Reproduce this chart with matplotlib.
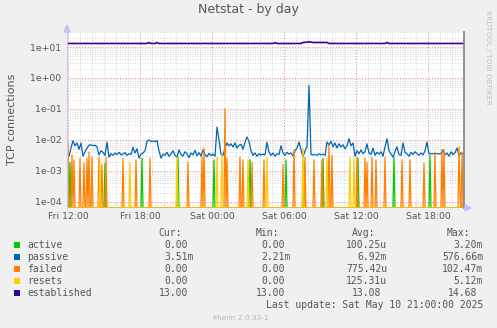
import matplotlib
matplotlib.use('Agg')
import matplotlib.pyplot as plt
from matplotlib.patches import Rectangle, Polygon
from matplotlib.ticker import FixedLocator, LogLocator, NullFormatter
import numpy as np

W, H = 497, 328
TXT = '#555555'

# hours since Fri 12:00, passive sampled every 10 min starting Fri 11:55
t_start = -5 / 60
passive_m = [3.3, 3.0, 5.5, 9.5, 6.5, 8.0, 5.0, 8.0, 3.0, 4.2, 5.5, 6.8, 7.0,
             6.5, 6.8, 6.0, 3.3, 4.5, 4.0, 3.2, 8.5, 2.8,
             3.6, 3.2, 3.8, 3.4, 4.0, 3.3, 3.5, 3.9, 3.2, 3.6, 3.4,
             5.8, 3.8, 5.2, 2.6,
             3.5, 3.8, 4.5, 9.0, 10.0, 9.0, 9.2, 8.8, 9.5, 4.5,
             2.6, 3.5, 3.2,
             4.0, 3.0, 3.6, 4.5, 3.2, 2.8, 4.8, 3.4, 3.0, 4.2, 3.6, 2.7, 3.8, 3.3,
             4.6, 3.1, 3.9, 3.0, 4.8, 3.4, 2.9, 3.7, 3.2, 3.5, 3.0,
             26.0, 10.0, 3.5, 3.2, 5.5, 8.0, 6.5, 7.5, 6.0, 8.0, 5.5, 6.8, 7.2,
             5.0, 8.5, 12.5, 9.0, 4.5, 3.2, 3.8, 3.0, 3.6, 3.3,
             3.5, 3.3, 8.5, 4.0, 3.2, 3.8, 3.0, 3.6, 3.4, 6.5, 3.8, 3.2, 4.0,
             3.5, 3.8, 3.1, 4.5, 5.5, 8.5, 5.0, 2.8, 4.5, 6.0,
             576.66, 3.4,
             3.3, 3.4, 3.2, 3.6, 3.3, 3.5, 3.2,
             8.5, 7.0, 9.0, 6.0, 8.0, 5.5, 7.5, 6.0, 7.0, 5.2, 6.5, 11.0, 6.5,
             8.0, 3.0, 4.5, 3.6, 4.8,
             3.6, 4.2, 7.5, 3.8, 3.4, 5.5, 3.2, 4.0, 3.5, 4.2, 3.0, 6.0, 11.0,
             4.5, 3.6, 2.8, 4.2, 6.0, 3.4, 3.2, 8.0, 4.0, 3.6, 3.0, 4.0, 3.4,
             4.2, 3.6, 3.2, 3.8, 3.3, 4.5, 8.5, 3.6,
             3.6, 3.6, 3.6, 3.6, 3.6, 3.6,
             4.8, 3.3, 3.8, 3.0, 4.2, 3.4, 3.9, 5.5, 3.2, 3.8, 3.5]

# sparse events (hour, value in milli), zero elsewhere (5 min samples)
failed_ev = [(0.0, 8.0), (0.333, 3.3), (0.5, 2.3), (1.0, 2.6), (1.333, 1.8),
             (1.583, 2.6), (1.75, 4.1), (2.0, 2.8), (2.583, 2.8), (2.833, 1.6),
             (3.167, 2.8), (4.583, 2.6), (5.667, 2.3), (6.833, 2.6), (10.0, 1.9),
             (11.167, 2.8), (11.333, 5.5), (13.083, 102.47), (13.25, 2.6),
             (14.333, 2.8), (14.583, 2.3), (15.333, 1.9), (16.333, 2.3),
             (17.917, 1.6), (18.833, 4.8), (19.75, 2.8), (20.5, 2.3),
             (21.167, 2.3), (21.75, 6.9), (22.0, 3.3), (24.083, 2.8),
             (24.75, 2.6), (24.917, 1.9), (25.333, 2.8), (25.667, 2.3),
             (26.417, 2.8), (27.833, 2.3), (28.5, 2.3), (29.667, 1.8),
             (30.583, 4.1), (31.167, 4.8), (31.333, 4.8), (32.583, 6.0),
             (32.667, 0.14), (32.833, 4.1)]
active_ev = [(0.167, 1.9), (3.083, 1.8), (6.167, 2.6), (9.167, 2.8),
             (12.167, 2.3), (15.167, 2.3), (18.167, 2.3), (19.667, 1.8),
             (21.25, 2.6), (24.167, 2.6), (27.167, 2.8), (30.167, 3.2)]
resets_ev = [(2.667, 1.9), (5.167, 1.9), (9.083, 2.8), (12.417, 2.8),
             (12.833, 3.3), (15.0, 2.3), (16.583, 2.8), (19.583, 5.12),
             (21.583, 2.6), (23.5, 2.8), (23.833, 2.6)]

established_base = 13.0
established_ev = [(6.75, 14.0), (7.417, 14.0), (17.167, 13.8),
                  (19.583, 14.0), (19.75, 14.1), (19.917, 14.3), (20.083, 14.68),
                  (20.25, 14.3), (20.417, 14.0), (20.583, 14.0), (20.75, 14.0),
                  (20.917, 14.0), (21.083, 14.0), (21.25, 14.0), (21.417, 14.0),
                  (21.583, 14.0), (26.583, 14.0)]

ticks_h = [0, 6, 12, 18, 24, 30]
tick_lbl = ['Fri 12:00', 'Fri 18:00', 'Sat 00:00', 'Sat 06:00', 'Sat 12:00', 'Sat 18:00']

names = ['active', 'passive', 'failed', 'resets', 'established']
colors = ['#00CC00', '#0066B3', '#FF8000', '#FFCC00', '#330099']
cur = ['0.00', '3.51m', '0.00', '0.00', '13.00']
mins = ['0.00', '2.21m', '0.00', '0.00', '13.00']
avgs = ['100.25u', '6.92m', '775.42u', '125.31u', '13.08']
maxs = ['3.20m', '576.66m', '102.47m', '5.12m', '14.68']

# ---- build series
t10 = t_start + np.arange(len(passive_m)) / 6.0
t5 = t_start + np.arange(398) / 12.0


def sparse(ev, t):
    v = np.zeros(len(t))
    for h, val in ev:
        v[np.argmin(np.abs(t - h))] = val * 1e-3
    return v


failed = sparse(failed_ev, t5)
active = sparse(active_ev, t5)
resets = sparse(resets_ev, t5)
passive = np.array(passive_m) * 1e-3
established = np.full(len(t10), established_base)
for h, val in established_ev:
    established[np.argmin(np.abs(t10 - h))] = val

ymin, ymax = 10 ** -4.194, 10 ** 1.484


def px(x):
    return x / W


def py(y):
    return 1 - y / H


fig = plt.figure(figsize=(W / 100, H / 100), dpi=100, facecolor='#F0F0F0')
ax = fig.add_axes([px(67), py(208), px(464) - px(67), py(32) - py(208)])
ax.set_facecolor('white')
ax.set_yscale('log')
ax.set_xlim(t_start, 33.0)
ax.set_ylim(ymin, ymax)

# grid
ax.xaxis.set_major_locator(FixedLocator(ticks_h))
ax.xaxis.set_minor_locator(FixedLocator(np.arange(0, 34, 1)))
ax.set_xticklabels(tick_lbl)
ax.yaxis.set_major_locator(LogLocator(base=10, numticks=20))
ax.yaxis.set_minor_locator(LogLocator(base=10, subs=np.arange(2, 10), numticks=20))
ax.yaxis.set_minor_formatter(NullFormatter())
ax.yaxis.set_major_formatter(plt.FuncFormatter(lambda v, p: '%.0e' % v))
ax.grid(which='minor', color='#C8C8C8', linestyle=(0, (1, 2)), linewidth=0.6)
ax.grid(which='major', color='#F08080', linestyle=(0, (1, 2)), linewidth=0.7)
ax.set_axisbelow(True)
ax.tick_params(which='both', length=0, labelsize=6.7, labelcolor=TXT)
ax.tick_params(axis='y', pad=4)
ax.tick_params(axis='x', pad=3)

for s in ['top', 'bottom']:
    ax.spines[s].set_visible(False)
ax.spines['left'].set_color('#C8C8F0')
ax.spines['right'].set_color('#808080')
ax.spines['right'].set_linewidth(1.2)

lo = ymin
ax.plot(t5, np.maximum(active, lo), color=colors[0], lw=0.9, clip_on=True)
ax.plot(t10, np.maximum(passive, lo), color=colors[1], lw=0.9)
ax.plot(t5, np.maximum(failed, lo), color=colors[2], lw=0.9)
ax.plot(t5, np.maximum(resets, lo), color=colors[3], lw=0.9)
ax.plot(t10, established, color=colors[4], lw=1.2)

# arrows
fig.patches.append(Polygon([(px(64), py(32)), (px(70), py(32)), (px(67), py(25))],
                           closed=True, color='#C0C0F8', transform=fig.transFigure))
fig.patches.append(Polygon([(px(465), py(205)), (px(465), py(211)), (px(471), py(208))],
                           closed=True, color='#C0C0F8', transform=fig.transFigure))

fig.text(px(248), py(10), 'Netstat - by day', ha='center', va='center',
         fontsize=9, color=TXT)
fig.text(px(12), py(119), 'TCP connections', rotation=90, ha='center',
         va='center', fontsize=8, color=TXT)
fig.text(px(488), py(57), 'RRDTOOL / TOBI OETIKER', rotation=270, ha='center',
         va='center', fontsize=5.3, color='#C0C0C0')

mono = dict(family='DejaVu Sans Mono', fontsize=7, color=TXT, va='center')
cw = 5.9
hdr_y = 233
fig.text(px(158), py(hdr_y), 'Cur:', ha='left', **mono)
fig.text(px(256), py(hdr_y), 'Min:', ha='left', **mono)
fig.text(px(352), py(hdr_y), 'Avg:', ha='left', **mono)
fig.text(px(447), py(hdr_y), 'Max:', ha='left', **mono)

col_right = [194, 291, 387, 483]
for i, name in enumerate(names):
    y = 245 + 12 * i
    fig.patches.append(Rectangle((px(14), py(y + 3)), px(6), py(0) - py(6),
                                 facecolor=colors[i], edgecolor='none',
                                 transform=fig.transFigure))
    fig.text(px(27), py(y), name, ha='left', **mono)
    for cr, val in zip(col_right, [cur[i], mins[i], avgs[i], maxs[i]]):
        xr = cr if val[-1].isalpha() else cr - cw
        fig.text(px(xr), py(y), val, ha='right', **mono)

fig.text(px(483), py(305), 'Last update: Sat May 10 21:00:00 2025', ha='right', **mono)
fig.text(px(241), py(318), 'Munin 2.0.33-1', ha='center', va='center',
         fontsize=5.3, color='#B8B8B8')

fig.savefig('out.png', dpi=100, facecolor=fig.get_facecolor())
